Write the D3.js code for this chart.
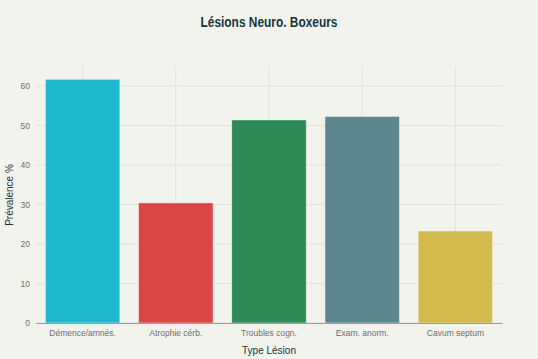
<!DOCTYPE html>
<html><head><meta charset="utf-8">
<script src="https://cdn.jsdelivr.net/npm/d3@7"></script>
<style>
html,body{margin:0;padding:0;background:#F3F3EE;}
svg{display:block;font-family:"Liberation Sans",Arial,sans-serif;}
</style></head>
<body><svg id="c" width="538" height="359"></svg>
<script>
const categories = ["Démence/amnés.", "Atrophie cérb.", "Troubles cogn.", "Exam. anorm.", "Cavum septum"];
const values = [61.7, 30.4, 51.4, 52.3, 23.3];
const colors = ["#1FB8CD", "#DB4545", "#2E8B57", "#5D878F", "#D2BA4C"];
const yTicks = [0, 10, 20, 30, 40, 50, 60];

const svg = d3.select("#c");
const W = 538, H = 359;
const m = {l: 36, r: 36, t: 67, b: 36};
const x = d3.scaleBand().domain(categories).range([m.l, W - m.r]).paddingInner(0.2).paddingOuter(0.1);
const y = d3.scaleLinear().domain([0, 64.8]).range([H - m.b, m.t]);

svg.append("rect").attr("width", W).attr("height", H).attr("fill", "#F3F3EE");

// grid
svg.append("g").selectAll("line.h").data(yTicks).join("line")
  .attr("x1", m.l).attr("x2", W - m.r)
  .attr("y1", d => y(d)).attr("y2", d => y(d))
  .attr("stroke", "#E2E2DC").attr("stroke-width", 1);
svg.append("g").selectAll("line.v").data(categories).join("line")
  .attr("x1", d => x(d) + x.bandwidth() / 2).attr("x2", d => x(d) + x.bandwidth() / 2)
  .attr("y1", m.t).attr("y2", H - m.b)
  .attr("stroke", "#E2E2DC").attr("stroke-width", 1);

// bars
svg.append("g").selectAll("rect").data(values).join("rect")
  .attr("x", (d, i) => x(categories[i]))
  .attr("y", d => y(d))
  .attr("width", x.bandwidth())
  .attr("height", d => y(0) - y(d))
  .attr("fill", (d, i) => colors[i])
  .attr("stroke", "#ffffff").attr("stroke-opacity", 0.6).attr("stroke-width", 0.8);

// y axis
const ya = svg.append("g").attr("transform", `translate(${m.l},0)`)
  .call(d3.axisLeft(y).tickValues(yTicks).tickSize(0).tickPadding(6));
ya.select(".domain").remove();
ya.selectAll("text").attr("fill", "#6B6B6B").attr("font-size", 8.5)
  .style("font-family", '"Liberation Sans",Arial,sans-serif');

// x axis
const xa = svg.append("g").attr("transform", `translate(0,${H - m.b})`)
  .call(d3.axisBottom(x).tickSize(0).tickPadding(7));
xa.select(".domain").attr("stroke", "#9A9A9A").attr("stroke-width", 1.2);
xa.selectAll("text").attr("fill", "#6B6B6B").attr("font-size", 8.5)
  .style("font-family", '"Liberation Sans",Arial,sans-serif');

// titles
svg.append("text").attr("x", W / 2).attr("y", 27).attr("text-anchor", "middle")
  .attr("font-size", 14).attr("font-weight", "bold").attr("fill", "#13343B")
  .attr("textLength", 137).attr("lengthAdjust", "spacingAndGlyphs")
  .text("Lésions Neuro. Boxeurs");
svg.append("text").attr("x", (m.l + W - m.r) / 2).attr("y", 354).attr("text-anchor", "middle")
  .attr("font-size", 10).attr("fill", "#13343B").text("Type Lésion");
svg.append("text").attr("transform", `translate(13,${(m.t + H - m.b) / 2}) rotate(-90)`)
  .attr("text-anchor", "middle").attr("font-size", 10).attr("fill", "#13343B").text("Prévalence %");
</script></body></html>
